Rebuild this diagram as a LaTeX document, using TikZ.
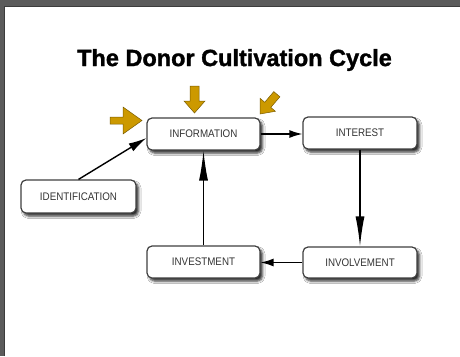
\documentclass[tikz,border=0pt]{standalone}
\usepackage{fontspec}
\setmainfont{Liberation Sans}
\newfontfamily\labelfont[FakeStretch=0.89]{Liberation Sans}
\newfontfamily\titlefont[BoldFeatures={FakeBold=1.4}]{Liberation Sans}
\usetikzlibrary{arrows.meta,shadows.blur}
\definecolor{frame}{HTML}{5B5B5B}
\definecolor{frameedge}{HTML}{3C3C3C}
\definecolor{gold}{HTML}{CC9900}
\definecolor{goldedge}{HTML}{7A5C00}
\definecolor{boxline}{HTML}{404040}
\definecolor{labelgray}{HTML}{333333}
\begin{document}
\begin{tikzpicture}[x=1pt,y=-1pt,
  stage/.style={draw=boxline, line width=1.2pt, fill=white, rounded corners=5pt,
    minimum width=113pt, minimum height=32pt, inner sep=0pt,
    font=\labelfont\fontsize{11}{13}\selectfont, text=labelgray,
    blur shadow={shadow xshift=2.5pt, shadow yshift=-3pt, shadow blur radius=2.5pt, shadow opacity=85}},
  flow/.style={line width=1.4pt, -{Latex[length=13pt,width=8pt]}},
  slantflow/.style={line width=1.4pt, -{Latex[length=18pt,width=9pt]}},
  longflow/.style={line width=1.4pt, -{Latex[length=30pt,width=9pt]}},
  pointer/.style={fill=gold, draw=goldedge, line width=0.5pt, line join=miter}]

% page on a grey viewer frame
\useasboundingbox (0,0) rectangle (460,356);
\fill[frame] (0,0) rectangle (460,356);
\fill[white] (5,7) rectangle (460,356);
\draw[frameedge, line width=1pt] (4.5,356) -- (4.5,6.5) -- (460,6.5);

% title
\node[font=\titlefont\bfseries\fontsize{23.5}{28}\selectfont] (title) at (234.5,60) {The Donor Cultivation Cycle};

% stages of the cycle
\node[stage] (info)   at (203.5,134) {INFORMATION};
\node[stage, minimum width=114pt] (interest) at (360,133) {INTEREST};
\node[stage, minimum width=114pt, minimum height=31pt] (involve) at (360,262.5) {INVOLVEMENT};
\node[stage] (invest) at (203.5,262) {INVESTMENT};
\node[stage, minimum width=115pt, minimum height=33pt] (ident) at (78.5,196.5) {IDENTIFICATION};

% connectors
\draw[slantflow] (ident.north) -- ([yshift=-4pt]info.west);
\draw[flow] (info.east) -- (interest.west |- info.east);
\draw[longflow] (interest.south) -- (involve.north);
\draw[flow] (involve.west) -- (invest.east |- involve.west);
\draw[longflow] (invest.north) -- (info.south);

% gold pointers at the information stage
\draw[pointer] (110,117) -- (123,117) -- (123,107) -- (142,120.5) -- (123,134) -- (123,124) -- (110,124) -- cycle;
\draw[pointer] (190,86) -- (199,86) -- (199,101) -- (205,101) -- (194.5,113) -- (184,101) -- (190,101) -- cycle;
\draw[pointer] (273.8,91.6) -- (264.7,102.3) -- (260.2,98.4) -- (260,114) -- (275.4,111.3) -- (270.8,107.4) -- (279.9,96.8) -- cycle;
\end{tikzpicture}
\end{document}
